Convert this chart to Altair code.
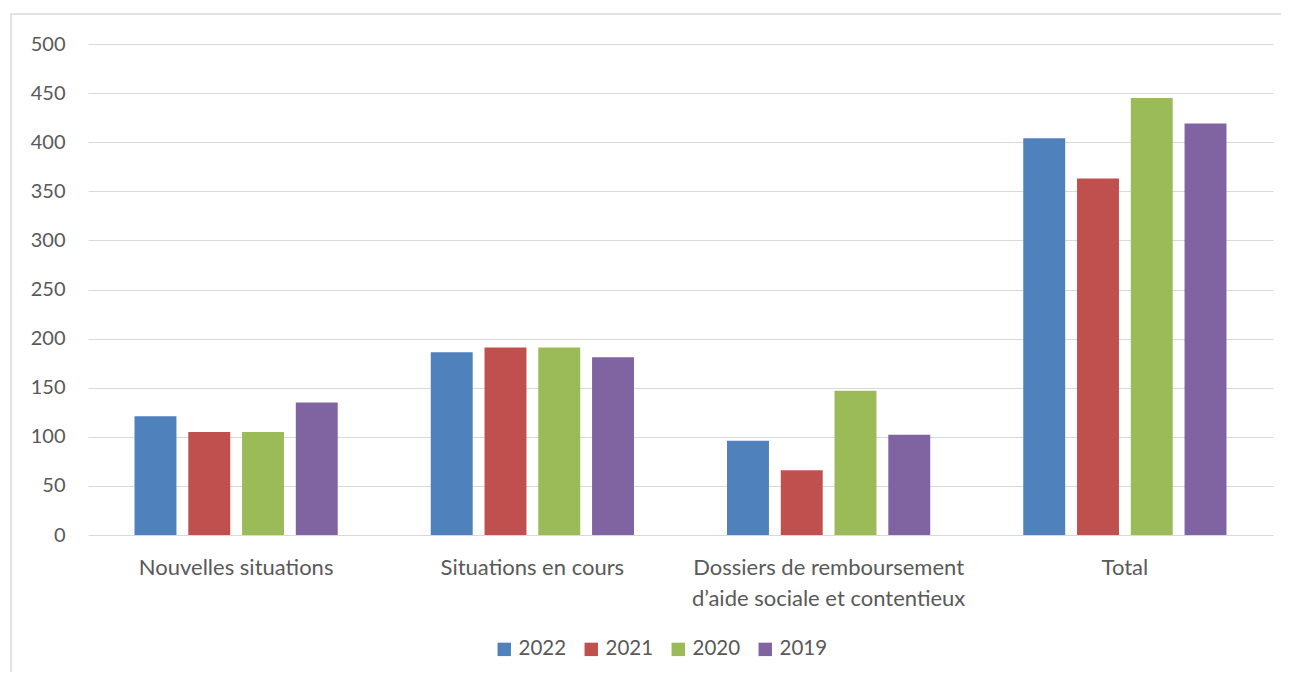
import altair as alt
import pandas as pd

categories = [
    "Nouvelles situations",
    "Situations en cours",
    "Dossiers de remboursement\nd’aide sociale et contentieux",
    "Total",
]
years = ["2022", "2021", "2020", "2019"]
colors = ["#4F81BD", "#C0504D", "#9BBB59", "#8064A2"]

values_2022 = [121, 186, 96, 404]
values_2021 = [105, 191, 66, 363]
values_2020 = [105, 191, 147, 445]
values_2019 = [135, 181, 102, 419]

series = {"2022": values_2022, "2021": values_2021, "2020": values_2020, "2019": values_2019}
rows = []
for y in years:
    for c, v in zip(categories, series[y]):
        rows.append({"Catégorie": c, "Année": y, "Valeur": v})
df = pd.DataFrame(rows)

FONT = "Lato"
TXT = "#595959"
W, H = 1185, 491

bars = alt.Chart(df).mark_bar().encode(
    x=alt.X("Catégorie:N", sort=categories, title=None,
            scale=alt.Scale(paddingInner=0.314, paddingOuter=0.157),
            axis=alt.Axis(labelAngle=0, labelExpr="split(datum.label, '\\n')",
                          labelFontSize=22, labelColor=TXT, labelFont=FONT,
                          labelPadding=32, labelLineHeight=31, labelLimit=400,
                          ticks=False, domain=False, grid=False, labelBaseline="middle")),
    xOffset=alt.XOffset("Année:N", sort=years,
                        scale=alt.Scale(paddingInner=0.22, paddingOuter=0)),
    y=alt.Y("Valeur:Q", title=None,
            scale=alt.Scale(domain=[0, 500], nice=False),
            axis=alt.Axis(values=list(range(0, 501, 50)), labelFontSize=20,
                          labelColor=TXT, labelFont=FONT, labelPadding=23,
                          gridColor="#D9D9D9", gridWidth=1.2, ticks=False, domain=False)),
    color=alt.Color("Année:N", sort=years,
                    scale=alt.Scale(domain=years, range=colors),
                    legend=alt.Legend(title=None, orient="none", direction="horizontal",
                                      legendX=406, legendY=595, symbolType="square",
                                      symbolSize=180, symbolStrokeWidth=0,
                                      labelFontSize=20.5, labelColor=TXT, labelFont=FONT,
                                      labelOffset=4, columnPadding=14)),
)

border = alt.Chart(pd.DataFrame({"k": [0]})).mark_rect(
    fill="white", fillOpacity=0, stroke="#D9D9D9", strokeWidth=1.5
).encode(
    x=alt.value(-77), x2=alt.value(W + 60),
    y=alt.value(-30), y2=alt.value(H + 200),
)

chart = alt.layer(border, bars).properties(
    width=W, height=H,
    background="white",
    autosize=alt.AutoSizeParams(type="none"),
    padding={"left": 80, "top": 36, "right": 8, "bottom": 137},
).configure_view(stroke="transparent", strokeWidth=0)

chart.save("out.html", embed_options={"renderer": "svg", "actions": False})
